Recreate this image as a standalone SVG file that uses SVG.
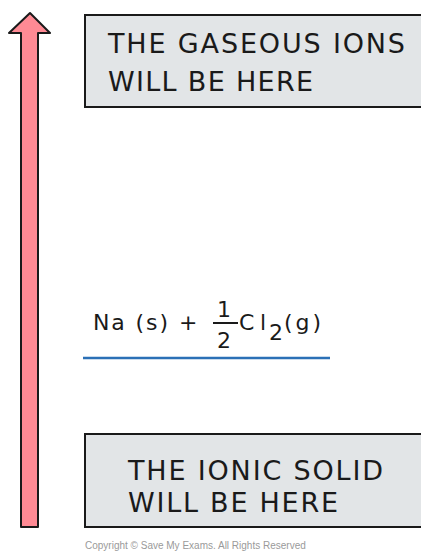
<svg xmlns="http://www.w3.org/2000/svg" width="421" height="552" viewBox="0 0 421 552">
<style>
.box{fill:#e2e5e7;stroke:#1a1a1a;stroke-width:2}
.lbl{font-family:"DejaVu Sans","Liberation Sans",sans-serif;font-size:27px;fill:#1a1a1a}
.eq{font-family:"DejaVu Sans","Liberation Sans",sans-serif;font-size:22px;fill:#1a1a1a}
</style>
<rect width="421" height="552" fill="#ffffff"/>
<g id="arrow">
<path d="M21,527 L21,33 L9,33 L30,13 L50,33 L38,33 L38,527 Z" fill="#ff8a94" stroke="#1a1a1a" stroke-width="2" stroke-linejoin="round"/>
</g>
<g id="top-box">
<rect class="box" x="85" y="15" width="345" height="92"/>
<text class="lbl" x="108" y="53" textLength="297" lengthAdjust="spacing">THE GASEOUS IONS</text>
<text class="lbl" x="108" y="91" textLength="205" lengthAdjust="spacing">WILL BE HERE</text>
</g>
<g id="reactants">
<text class="eq" x="93" y="330" textLength="75" lengthAdjust="spacing">Na (s)</text>
<text class="eq" x="179" y="330">+</text>
<text class="eq" x="217" y="317" font-size="19">1</text>
<line x1="213" y1="323" x2="238" y2="323" stroke="#1a1a1a" stroke-width="2"/>
<text class="eq" x="217" y="348">2</text>
<text class="eq" x="239" y="330" textLength="27" lengthAdjust="spacing">Cl</text>
<text class="eq" x="269" y="340" font-size="16">2</text>
<text class="eq" x="284" y="330" textLength="37" lengthAdjust="spacing">(g)</text>
<line x1="83" y1="358" x2="330" y2="358" stroke="#2b70b6" stroke-width="2.5"/>
</g>
<g id="bottom-box">
<rect class="box" x="85" y="434" width="345" height="93"/>
<text class="lbl" x="128" y="480" textLength="255" lengthAdjust="spacing">THE IONIC SOLID</text>
<text class="lbl" x="128" y="512" textLength="210" lengthAdjust="spacing">WILL BE HERE</text>
</g>
<text x="85" y="549" font-family="Liberation Sans, sans-serif" font-size="10" fill="#9a9a9a">Copyright © Save My Exams. All Rights Reserved</text>
</svg>
